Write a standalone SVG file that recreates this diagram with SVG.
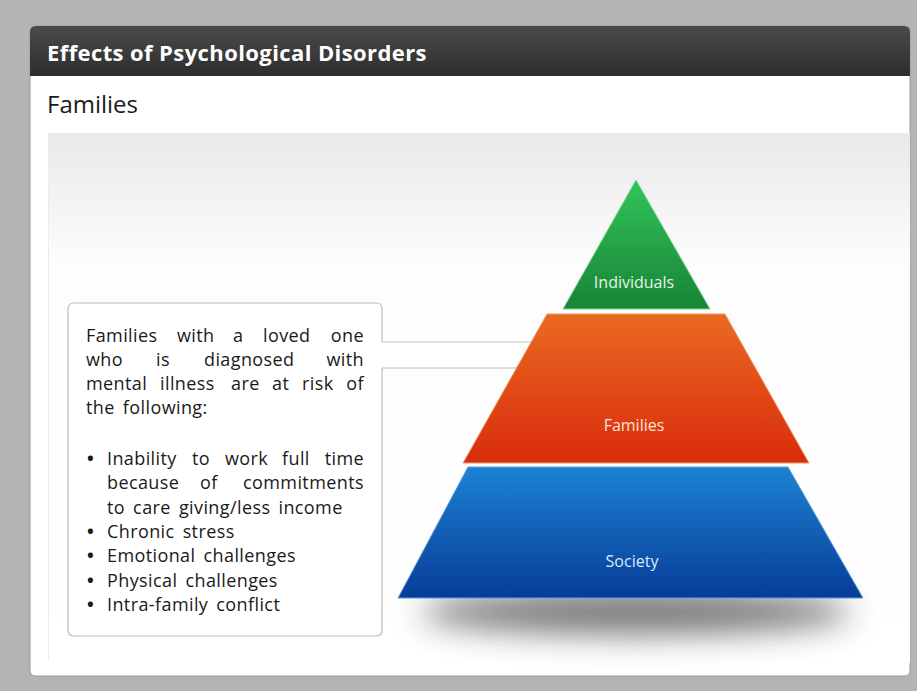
<svg xmlns="http://www.w3.org/2000/svg" width="917" height="691" viewBox="0 0 917 691">
<defs>
<style>
.t{font-family:"Open Sans","Noto Sans","Liberation Sans",sans-serif;}
.body{font-size:18px;fill:#1a1a1a;letter-spacing:0.4px;word-spacing:3px;}
.lbl{font-size:16px;text-anchor:middle;}
.e{text-anchor:end;}
.b{font-weight:bold;}
</style>
<linearGradient id="hdr" x1="0" y1="0" x2="0" y2="1"><stop offset="0" stop-color="#4b4b4b"/><stop offset="1" stop-color="#2d2d2d"/></linearGradient>
<linearGradient id="inner" x1="0" y1="0" x2="0" y2="1"><stop offset="0" stop-color="#e9e9e9"/><stop offset="0.25" stop-color="#fdfdfd"/><stop offset="1" stop-color="#ffffff"/></linearGradient>
<linearGradient id="gG" x1="0" y1="0" x2="0" y2="1"><stop offset="0" stop-color="#33c35a"/><stop offset="1" stop-color="#178436"/></linearGradient>
<linearGradient id="gO" x1="0" y1="0" x2="0" y2="1"><stop offset="0" stop-color="#ea6a22"/><stop offset="1" stop-color="#d92c0c"/></linearGradient>
<linearGradient id="gB" x1="0" y1="0" x2="0" y2="1"><stop offset="0" stop-color="#1c82d2"/><stop offset="1" stop-color="#073c98"/></linearGradient>
<filter id="blur" x="-30%" y="-150%" width="160%" height="400%"><feGaussianBlur stdDeviation="16"/></filter>
</defs>
<rect width="917" height="691" fill="#b4b4b4"/>
<g id="panel">
<path d="M30 32 Q30 26 36 26 L904 26 Q910 26 910 32 L910 670 Q910 676 904 676 L36 676 Q30 676 30 670 Z" fill="#ffffff" stroke="#9a9a9a" stroke-width="1"/>
<path d="M30 32 Q30 26 36 26 L904 26 Q910 26 910 32 L910 76 L30 76 Z" fill="url(#hdr)"/>
<text class="t" x="47" y="61" font-size="22" font-weight="bold" letter-spacing="0.4" fill="#ffffff">Effects of Psychological Disorders</text>
<text class="t" x="47" y="113" font-size="24" fill="#1a1a1a">Families</text>
<rect x="48" y="133" width="862" height="530" fill="url(#inner)"/>
<line x1="48.5" y1="133" x2="48.5" y2="660" stroke="#ececec"/>
</g>
<g id="shadow">
<ellipse cx="636" cy="612" rx="215" ry="22" fill="#6e6e6e" opacity="0.95" filter="url(#blur)"/>
</g>
<g id="connectors">
<path d="M380 342 L545 342 L545 368 L380 368 Z" fill="#ffffff"/>
<path d="M382 342 L545 342 M382 368 L545 368" fill="none" stroke="#bdbdbd" stroke-width="1.2"/>
</g>
<g id="callout">
<rect x="68" y="303" width="314" height="333" rx="6" fill="#ffffff"/>
<path d="M382 342 L382 309 Q382 303 376 303 L74 303 Q68 303 68 309 L68 630 Q68 636 74 636 L376 636 Q382 636 382 630 L382 368" fill="none" stroke="#bdbdbd" stroke-width="1.2"/>
<g class="t body">
<text x="86" y="342">Families</text><text x="177" y="342">with</text><text x="233" y="342">a</text><text x="263" y="342">loved</text><text class="e" x="364" y="342">one</text>
<text x="86" y="366">who</text><text x="156" y="366">is</text><text x="204" y="366">diagnosed</text><text class="e" x="364" y="366">with</text>
<text x="86" y="390">mental</text><text x="160" y="390">illness</text><text x="231" y="390">are</text><text x="272" y="390">at</text><text x="302" y="390">risk</text><text class="e" x="364" y="390">of</text>
<text x="86" y="414">the following:</text>
<text class="b" x="87" y="465">•</text><text x="107" y="465">Inability</text><text x="192" y="465">to</text><text x="225" y="465">work</text><text x="282" y="465">full</text><text class="e" x="364" y="465">time</text>
<text x="107" y="489">because</text><text x="200" y="489">of</text><text class="e" x="364" y="489">commitments</text>
<text x="107" y="514">to care giving/less income</text>
<text class="b" x="87" y="538">•</text><text x="107" y="538">Chronic stress</text>
<text class="b" x="87" y="562">•</text><text x="107" y="562">Emotional challenges</text>
<text class="b" x="87" y="587">•</text><text x="107" y="587">Physical challenges</text>
<text class="b" x="87" y="611">•</text><text x="107" y="611">Intra-family conflict</text>
</g>
</g>
<g id="society">
<polygon points="468,467 788,467 863,598 398,598" fill="url(#gB)" stroke="#5f9fd8" stroke-width="1"/>
<text class="t lbl" x="632" y="567" fill="#dce8f7">Society</text>
</g>
<g id="families">
<polygon points="547,314 725,314 809,463 463,463" fill="url(#gO)" stroke="#f09a6a" stroke-width="1"/>
<text class="t lbl" x="634" y="431" font-size="17" fill="#fbe3d6">Families</text>
</g>
<g id="individuals">
<polygon points="636,180 710,309 563,309" fill="url(#gG)" stroke="#7fd594" stroke-width="1"/>
<text class="t lbl" x="634" y="288" fill="#e3f5e6">Individuals</text>
</g>
</svg>
